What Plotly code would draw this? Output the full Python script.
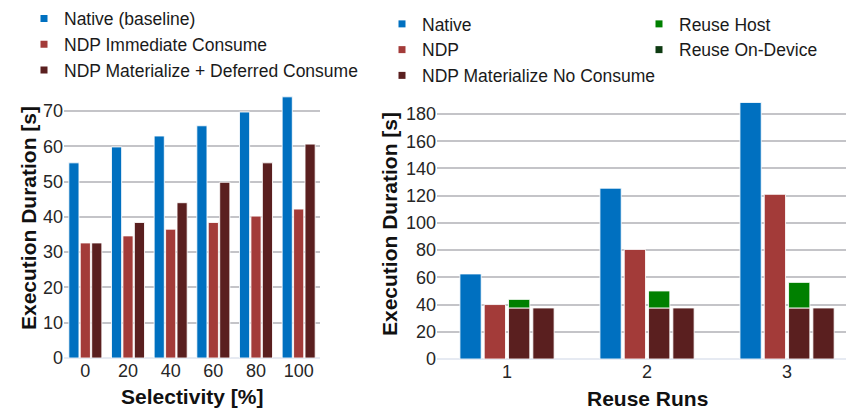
import plotly.graph_objects as go

# ---- Selectivity experiment (left panel) ----
selectivity = ["0", "20", "40", "60", "80", "100"]
native_baseline = [55.3, 59.8, 62.9, 65.8, 69.7, 74.0]
ndp_immediate = [32.6, 34.6, 36.5, 38.4, 40.2, 42.2]
ndp_deferred = [32.6, 38.4, 44.0, 49.8, 55.3, 60.6]

# ---- Reuse experiment (right panel) ----
reuse_runs = ["1", "2", "3"]
native_reuse = [62.5, 125.5, 188.5]
ndp_reuse = [40.0, 80.5, 121.0]
materialize_no_consume = [37.5, 37.5, 37.5]
reuse_host = [6.3, 12.5, 18.8]
reuse_on_device = [0.0, 0.0, 0.0]

BLUE = "#0070C0"
RED = "#A33B39"
DARK = "#5A1F1F"
GREEN = "#008000"
DARK_GREEN = "#0E3B12"
FONT = "Liberation Sans, Arial, sans-serif"
EDGE = dict(color="rgba(255,255,255,0.85)", width=1)

fig = go.Figure()


def slot(i, n, pitch, width):
    """Offset of the i-th bar in a group of n bars."""
    return -n * pitch / 2 + i * pitch + (pitch - width) / 2


# left panel bars
lp, lw = 0.268, 0.238
for i, (vals, col) in enumerate([(native_baseline, BLUE), (ndp_immediate, RED), (ndp_deferred, DARK)]):
    fig.add_trace(go.Bar(x=selectivity, y=vals, marker=dict(color=col, line=EDGE),
                         offset=slot(i, 3, lp, lw), width=lw, showlegend=False,
                         xaxis="x", yaxis="y"))

# right panel bars
rp, rw = 0.1736, 0.152
fig.add_trace(go.Bar(x=reuse_runs, y=native_reuse, marker=dict(color=BLUE, line=EDGE),
                     offset=slot(0, 4, rp, rw), width=rw, showlegend=False, xaxis="x2", yaxis="y2"))
fig.add_trace(go.Bar(x=reuse_runs, y=ndp_reuse, marker=dict(color=RED, line=EDGE),
                     offset=slot(1, 4, rp, rw), width=rw, showlegend=False, xaxis="x2", yaxis="y2"))
# host-side reuse: materialized result plus the host reuse cost stacked on top
fig.add_trace(go.Bar(x=reuse_runs, y=materialize_no_consume, marker=dict(color=DARK, line=EDGE),
                     offset=slot(2, 4, rp, rw), width=rw, showlegend=False, xaxis="x2", yaxis="y2"))
fig.add_trace(go.Bar(x=reuse_runs, y=reuse_host, base=materialize_no_consume,
                     marker=dict(color=GREEN, line=EDGE),
                     offset=slot(2, 4, rp, rw), width=rw, showlegend=False, xaxis="x2", yaxis="y2"))
# on-device reuse
fig.add_trace(go.Bar(x=reuse_runs, y=materialize_no_consume, marker=dict(color=DARK, line=EDGE),
                     offset=slot(3, 4, rp, rw), width=rw, showlegend=False, xaxis="x2", yaxis="y2"))
fig.add_trace(go.Bar(x=reuse_runs, y=reuse_on_device, base=materialize_no_consume,
                     marker=dict(color=DARK_GREEN, line=dict(width=0)),
                     offset=slot(3, 4, rp, rw), width=rw, showlegend=False, xaxis="x2", yaxis="y2"))


def legend_entry(name, color, legend, axes):
    fig.add_trace(go.Scatter(x=[None], y=[None], mode="markers", name=name,
                             marker=dict(symbol="square", size=7, color=color),
                             legend=legend, xaxis=axes[0], yaxis=axes[1]))


for name, col in [("Native (baseline)", BLUE), ("NDP Immediate Consume", RED),
                  ("NDP Materialize + Deferred Consume", DARK)]:
    legend_entry(name, col, "legend", ("x", "y"))
for name, col in [("Native", BLUE), ("NDP", RED), ("NDP Materialize No Consume", DARK)]:
    legend_entry(name, col, "legend2", ("x2", "y2"))
for name, col in [("Reuse Host", GREEN), ("Reuse On-Device", DARK_GREEN)]:
    legend_entry(name, col, "legend3", ("x2", "y2"))

legend_common = dict(font=dict(family=FONT, size=17.5, color="#1a1a1a"), bgcolor="rgba(0,0,0,0)",
                     traceorder="normal", xanchor="left", yanchor="top", itemclick=False)

grid = "#C4C4C8"
tickfont = dict(family=FONT, size=18, color="#262626")
yaxis_common = dict(showgrid=True, gridcolor=grid, gridwidth=1.5, zeroline=True,
                    zerolinecolor="#E6EAF2", zerolinewidth=2, showline=False, automargin=False,
                    ticks="", tickfont=tickfont, fixedrange=True)
xaxis_common = dict(showgrid=False, zeroline=False, showline=False, ticks="", automargin=False,
                    tickfont=tickfont, type="category", fixedrange=True)

title_font = dict(family=FONT, size=21, color="#111")


def axis_title(text, x, y, vertical=False):
    return dict(text=f"<b>{text}</b>", textangle=-90 if vertical else 0,
                x=x / 846, y=1 - y / 410, xref="paper", yref="paper",
                xanchor="center", yanchor="middle", showarrow=False, font=title_font)


fig.update_layout(
    width=846, height=410,
    margin=dict(l=0, r=0, t=0, b=0, autoexpand=False),
    paper_bgcolor="white", plot_bgcolor="white",
    barmode="overlay",
    font=dict(family=FONT, color="#1a1a1a"),
    xaxis=dict(domain=[64 / 846, 320 / 846], range=[-0.5, 5.5], anchor="y", **xaxis_common),
    yaxis=dict(domain=[52 / 410, (410 - 93.3) / 410], range=[0, 75], dtick=10, anchor="x",
               **yaxis_common),
    xaxis2=dict(domain=[437 / 846, 1.0], range=[-0.5, 2.421], anchor="y2", **xaxis_common),
    yaxis2=dict(domain=[51 / 410, (410 - 100.4) / 410], range=[0, 190], dtick=20, anchor="x2",
                **yaxis_common),
    legend=dict(x=24 / 846, y=1 - 0.5 / 410, **legend_common),
    legend2=dict(x=382 / 846, y=1 - 6 / 410, **legend_common),
    legend3=dict(x=639 / 846, y=1 - 6 / 410, **legend_common),
    annotations=[
        axis_title("Execution Duration [s]", 28, 218, vertical=True),
        axis_title("Selectivity [%]", 191.5, 396),
        axis_title("Execution Duration [s]", 389, 224, vertical=True),
        axis_title("Reuse Runs", 647, 398),
    ],
)

fig.write_html("out.html")
